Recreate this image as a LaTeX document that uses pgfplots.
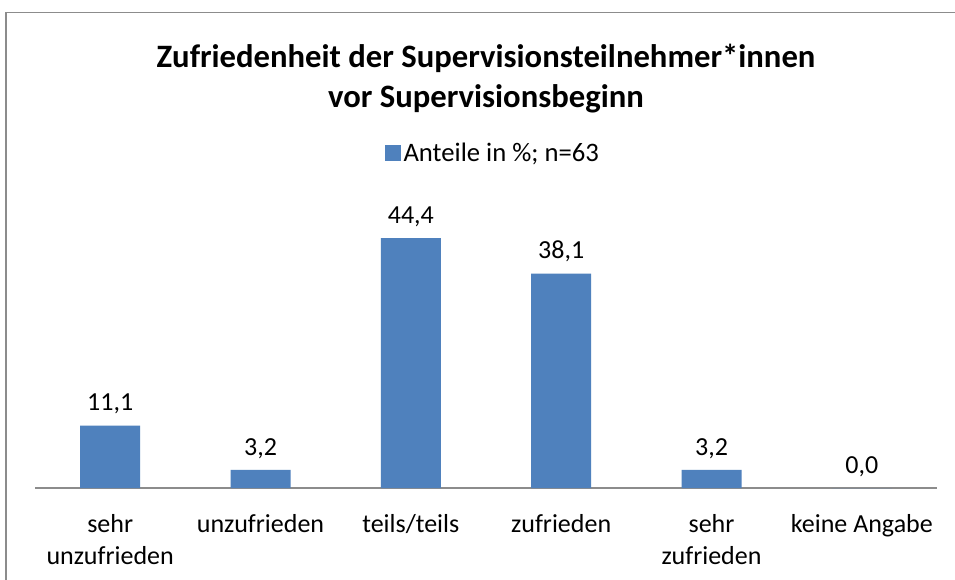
\documentclass[border=0pt]{standalone}
\usepackage{pgfplots}
\pgfplotsset{compat=1.18}
\usepackage{fontspec}
\setmainfont{Carlito}
\definecolor{barblue}{HTML}{4F81BD}
\definecolor{framegray}{HTML}{8C8C8C}
\begin{document}
\begin{tikzpicture}
\useasboundingbox (0pt,0pt) rectangle (716.25pt,434.25pt);
\fill[white] (0pt,0pt) rectangle (716.25pt,434.25pt);
\node[font=\fontsize{24.5}{30}\selectfont\bfseries, align=center] at (364.5pt,375pt)
  {Zufriedenheit der Supervisionsteilnehmer*innen\\vor Supervisionsbeginn};
\begin{axis}[
  at={(26.25pt,68.25pt)}, anchor=south west,
  scale only axis,
  width=676.5pt, height=211.1pt,
  xmin=-0.5, xmax=5.5, ymin=0, ymax=50,
  axis x line=bottom, axis y line=none,
  x axis line style={-, draw=framegray, line width=1pt},
  xtick={0,1,2,3,4,5},
  xticklabels={{sehr\\unzufrieden},{unzufrieden},{teils/teils},{zufrieden},{sehr\\zufrieden},{keine Angabe}},
  major tick length=0pt,
  xticklabel style={font=\fontsize{19.5}{24}\selectfont, align=center, anchor=north, yshift=-16pt},
  ybar, bar width=45pt,
  nodes near coords,
  nodes near coords style={font=\fontsize{19.5}{24}\selectfont, yshift=5pt,
     /pgf/number format/.cd, fixed, fixed zerofill, precision=1, use comma, assume math mode=true},
  legend style={at={(0.508,1.19)}, anchor=center, draw=none, fill=none,
     font=\fontsize{20}{24}\selectfont, inner sep=0pt},
  legend image code/.code={\fill[barblue] (0pt,-6pt) rectangle (12pt,6pt);},
  clip=false,
]
\addplot[fill=barblue, draw=none] coordinates {(0,11.1) (1,3.2) (2,44.4) (3,38.1) (4,3.2) (5,0.0)};
\addlegendentry{Anteile in \%; n=63}
\end{axis}
\fill[framegray] (3.9pt,-5pt) rectangle (5.1pt,425.6pt);
\fill[framegray] (3.9pt,424.4pt) rectangle (716.25pt,425.6pt);
\end{tikzpicture}
\end{document}
